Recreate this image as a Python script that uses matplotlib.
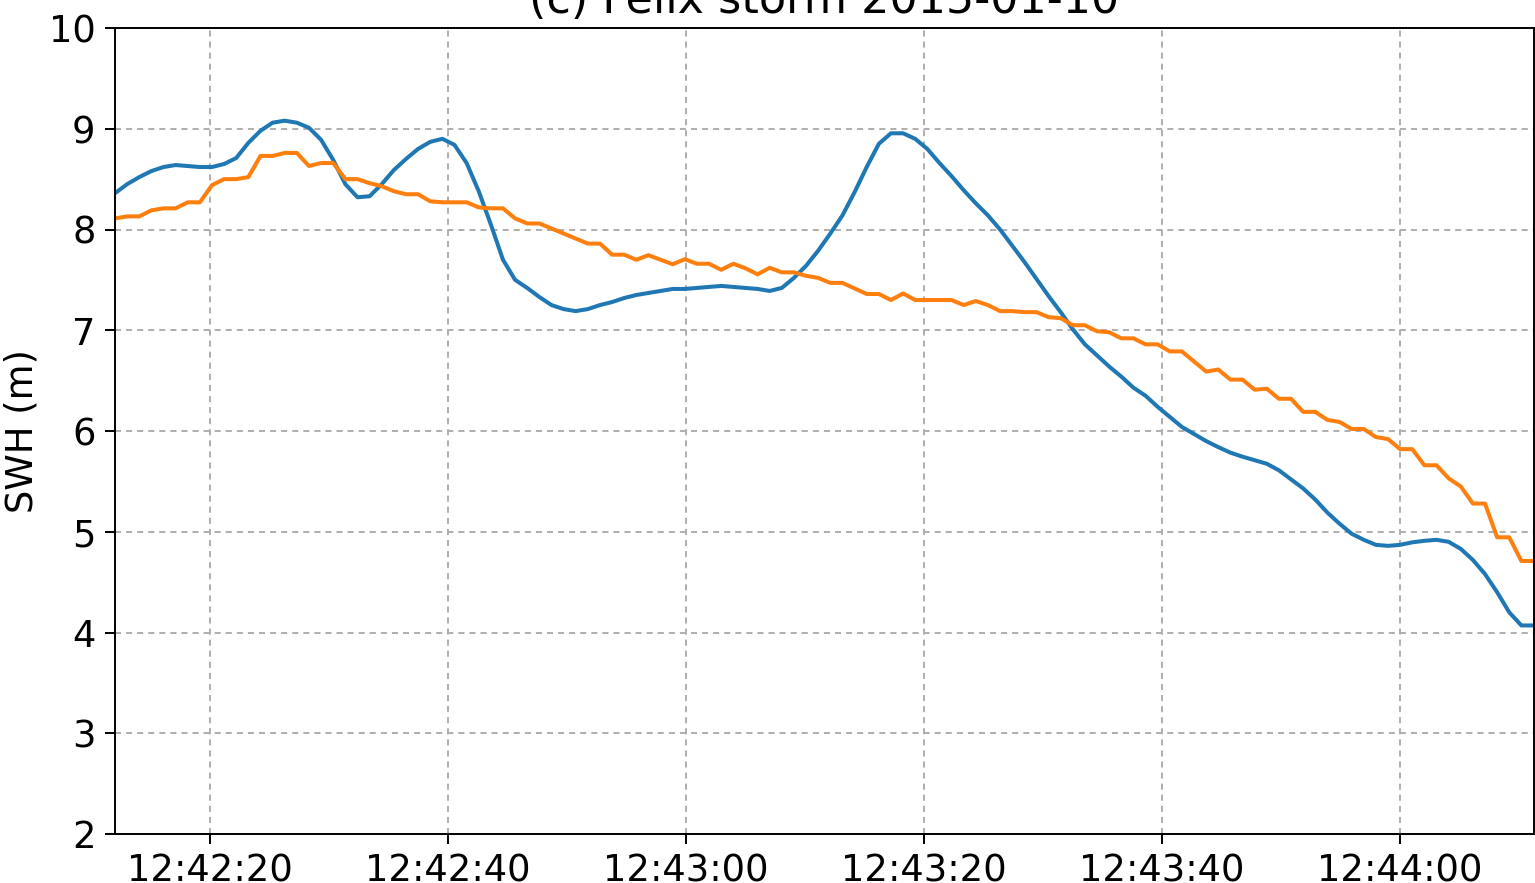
import numpy as np
import matplotlib
matplotlib.use("Agg")
import matplotlib.pyplot as plt
import matplotlib.dates as mdates

# 1 Hz altimeter samples (about 1.019 s apart) starting 12:42:12
start = np.datetime64("2015-01-10T12:42:12.000")
step_ms = 1019

# SWH from the first estimate (blue)
swh_a = [8.36, 8.45, 8.52, 8.58, 8.62, 8.64, 8.63, 8.62, 8.62, 8.65,
         8.71, 8.86, 8.98, 9.06, 9.08, 9.06, 9.01, 8.89, 8.69, 8.45,
         8.32, 8.33, 8.45, 8.59, 8.70, 8.80, 8.87, 8.90, 8.84, 8.66,
         8.38, 8.05, 7.70, 7.50, 7.42, 7.33, 7.25, 7.21, 7.19, 7.21,
         7.25, 7.28, 7.32, 7.35, 7.37, 7.39, 7.41, 7.41, 7.42, 7.43,
         7.44, 7.43, 7.42, 7.41, 7.39, 7.42, 7.52, 7.64, 7.79, 7.96,
         8.14, 8.37, 8.62, 8.85, 8.955, 8.955, 8.90, 8.80, 8.66, 8.53,
         8.39, 8.26, 8.14, 8.00, 7.84, 7.68, 7.51, 7.34, 7.18, 7.01,
         6.86, 6.75, 6.64, 6.54, 6.43, 6.35, 6.24, 6.14, 6.04, 5.97,
         5.90, 5.84, 5.785, 5.745, 5.71, 5.675, 5.61, 5.52, 5.43, 5.32,
         5.19, 5.08, 4.98, 4.92, 4.87, 4.86, 4.87, 4.895, 4.91, 4.92,
         4.90, 4.83, 4.72, 4.58, 4.40, 4.20, 4.07, 4.07]

# SWH from the second estimate (orange)
swh_b = [8.11, 8.13, 8.13, 8.19, 8.21, 8.21, 8.27, 8.27, 8.44, 8.50,
         8.50, 8.52, 8.73, 8.73, 8.76, 8.76, 8.63, 8.66, 8.66, 8.50,
         8.50, 8.46, 8.43, 8.38, 8.35, 8.35, 8.28, 8.27, 8.27, 8.27,
         8.22, 8.21, 8.21, 8.11, 8.06, 8.06, 8.01, 7.96, 7.91, 7.86,
         7.86, 7.75, 7.75, 7.70, 7.745, 7.70, 7.655, 7.705, 7.66, 7.66,
         7.60, 7.66, 7.615, 7.555, 7.62, 7.575, 7.575, 7.54, 7.52, 7.47,
         7.47, 7.415, 7.36, 7.36, 7.30, 7.365, 7.30, 7.30, 7.30, 7.30,
         7.25, 7.29, 7.25, 7.19, 7.19, 7.18, 7.18, 7.13, 7.12, 7.05,
         7.05, 6.99, 6.98, 6.92, 6.92, 6.86, 6.86, 6.79, 6.79, 6.69,
         6.59, 6.61, 6.51, 6.51, 6.41, 6.42, 6.32, 6.32, 6.19, 6.19,
         6.11, 6.09, 6.02, 6.02, 5.94, 5.92, 5.82, 5.82, 5.66, 5.66,
         5.53, 5.45, 5.28, 5.28, 4.945, 4.945, 4.71, 4.71]

times = start + (np.arange(len(swh_a)) * step_ms).astype("timedelta64[ms]")
times = times.astype("datetime64[ms]").astype(object)

plt.rcParams["font.size"] = 26.6

fig = plt.figure(figsize=(15.35, 8.83), dpi=100)
ax = fig.add_axes([115 / 1535, 49 / 883, 1418.5 / 1535, 806 / 883])

ax.plot(times, swh_a, color="#1f77b4", linewidth=2.9)
ax.plot(times, swh_b, color="#ff7f0e", linewidth=2.9)

ax.set_xlim(times[0], times[-1])
ax.set_ylim(2, 10)
ax.set_yticks(range(2, 11))
ax.xaxis.set_major_locator(mdates.SecondLocator(bysecond=[0, 20, 40]))
ax.xaxis.set_major_formatter(mdates.DateFormatter("%H:%M:%S"))

ax.set_ylabel("SWH (m)", labelpad=6)
ax.set_title("(c) Felix storm 2015-01-10", fontsize=32, pad=11)

ax.grid(True, color="#b0b0b0", linestyle=(0, (3.0, 2.5)), linewidth=1.45)
ax.tick_params(length=7, width=1.4, pad=7)
ax.tick_params(axis="x", pad=6)
for s in ax.spines.values():
    s.set_linewidth(1.4)

fig.savefig("out.png", dpi=100)
